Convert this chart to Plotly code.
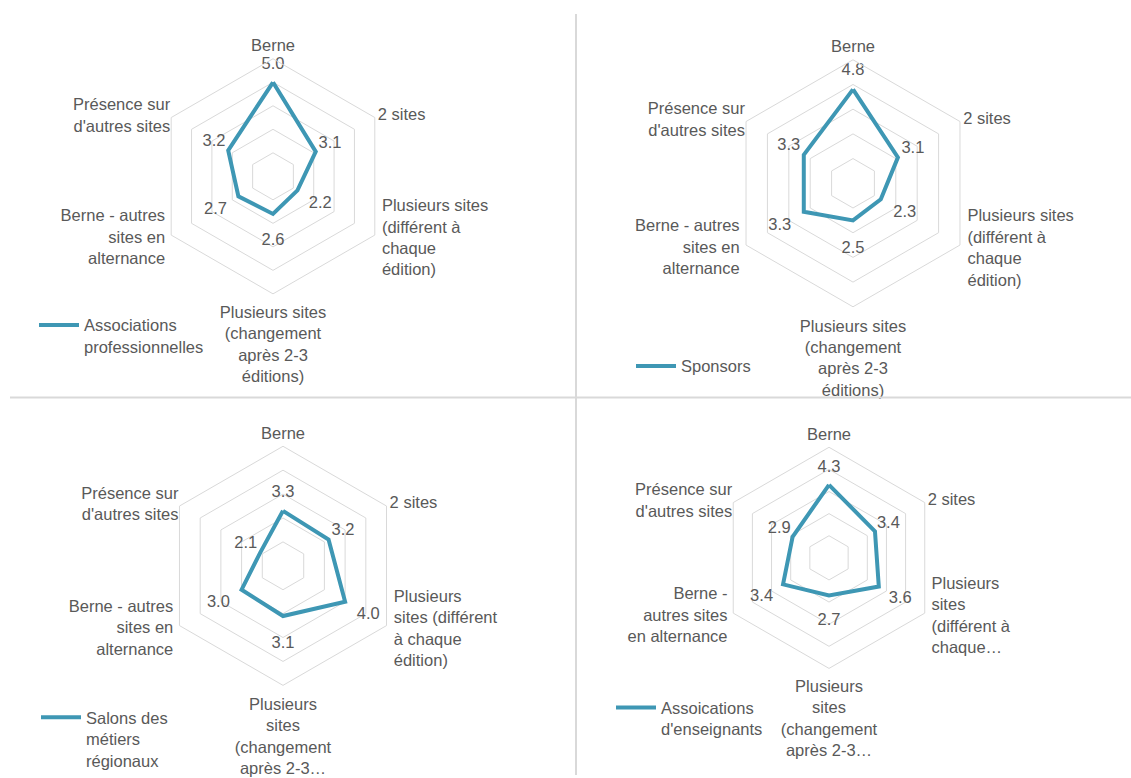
import plotly.graph_objects as go

W, H = 1131, 778

# ---------------- data ----------------
CATEGORIES = [
    "Berne",
    "2 sites",
    "Plusieurs sites (différent à chaque édition)",
    "Plusieurs sites (changement après 2-3 éditions)",
    "Berne - autres sites en alternance",
    "Présence sur d'autres sites",
]

LABELS_1 = ["Berne", "2 sites",
            "Plusieurs sites<br>(différent à<br>chaque<br>édition)",
            "Plusieurs sites<br>(changement<br>après 2-3<br>éditions)",
            "Berne - autres<br>sites en<br>alternance",
            "Présence sur<br>d'autres sites"]
LABELS_2 = ["Berne", "2 sites",
            "Plusieurs sites<br>(différent à<br>chaque<br>édition)",
            "Plusieurs sites<br>(changement<br>après 2-3<br>éditions)",
            "Berne - autres<br>sites en<br>alternance",
            "Présence sur<br>d'autres sites"]
LABELS_3 = ["Berne", "2 sites",
            "Plusieurs<br>sites (différent<br>à chaque<br>édition)",
            "Plusieurs<br>sites<br>(changement<br>après 2-3…",
            "Berne - autres<br>sites en<br>alternance",
            "Présence sur<br>d'autres sites"]
LABELS_4 = ["Berne", "2 sites",
            "Plusieurs<br>sites<br>(différent à<br>chaque…",
            "Plusieurs<br>sites<br>(changement<br>après 2-3…",
            "Berne -<br>autres sites<br>en alternance",
            "Présence sur<br>d'autres sites"]

SERIES_1 = "Associations<br>professionnelles"
SERIES_2 = "Sponsors"
SERIES_3 = "Salons des<br>métiers<br>régionaux"
SERIES_4 = "Assoications<br>d'enseignants"

VALUES_1 = [5.0, 3.1, 2.2, 2.6, 2.7, 3.2]
VALUES_2 = [4.8, 3.1, 2.3, 2.5, 3.3, 3.3]
VALUES_3 = [3.3, 3.2, 4.0, 3.1, 3.0, 2.1]
VALUES_4 = [4.3, 3.4, 3.6, 2.7, 3.4, 2.9]

RADIAL_RANGE = [1, 6]

# ---------------- style ----------------
LINE_COLOR = "#3E97B4"
TEXT_COLOR = "#595959"
GRID_COLOR = "#D9D9D9"
FONT = "Liberation Sans, Arial, sans-serif"
FS = 16.5
VALUE_LABEL_OFFSET = [0.75, 0.7, 1.12, 1.15, 1.12, 0.7]   # radial offset of value labels
CAT_LABEL_POS = ["top center", "middle right", "middle right",
                 "bottom center", "middle left", "middle left"]
CAT_LABEL_PAD = [0.15, 0.15, 0.35, 0.5, 0.3, 0.05]
OVERLAY_MAX = 6.6   # radial max of the transparent label layer

charts = [
    # (labels, values, name, polar id, overlay id, legend id, centre x, centre y, radius)
    (LABELS_1, VALUES_1, SERIES_1, "polar", "polar5", "legend", 273, 177, 118),
    (LABELS_2, VALUES_2, SERIES_2, "polar2", "polar6", "legend2", 853, 184, 124),
    (LABELS_3, VALUES_3, SERIES_3, "polar3", "polar7", "legend3", 283, 568, 120),
    (LABELS_4, VALUES_4, SERIES_4, "polar4", "polar8", "legend4", 829, 560, 111),
]

legend_pos = {
    "legend": (34, 309),
    "legend2": (631, 350),
    "legend3": (36, 703),
    "legend4": (611, 693),
}


def domain(cx, cy, r):
    return dict(x=[(cx - r) / W, (cx + r) / W],
                y=[1 - (cy + r) / H, 1 - (cy - r) / H])


fig = go.Figure()
layout = {}
for labels, vals, name, pid, oid, lid, cx, cy, r in charts:
    theta = labels + labels[:1]
    rr = vals + vals[:1]
    fig.add_trace(go.Scatterpolar(
        r=rr, theta=theta, mode="lines", name=name,
        line=dict(color=LINE_COLOR, width=4),
        subplot=pid, legend=lid, showlegend=True,
        hoverinfo="skip",
    ))
    # value labels
    fig.add_trace(go.Scatterpolar(
        r=[v + o for v, o in zip(vals, VALUE_LABEL_OFFSET)], theta=labels,
        mode="text",
        text=[f"{v:.1f}" for v in vals], textposition="middle center",
        textfont=dict(family=FONT, size=FS, color=TEXT_COLOR),
        subplot=pid, showlegend=False, cliponaxis=False, hoverinfo="skip",
    ))
    # category labels, drawn on a transparent overlay sharing the same scale
    fig.add_trace(go.Scatterpolar(
        r=[RADIAL_RANGE[1] + p for p in CAT_LABEL_PAD], theta=labels,
        mode="text", text=labels, textposition=CAT_LABEL_POS,
        textfont=dict(family=FONT, size=FS, color=TEXT_COLOR),
        subplot=oid, showlegend=False, cliponaxis=False, hoverinfo="skip",
    ))
    layout[pid] = dict(
        domain=domain(cx, cy, r),
        gridshape="linear",
        bgcolor="white",
        radialaxis=dict(range=RADIAL_RANGE, dtick=1, showticklabels=False,
                        showline=False, ticks="", gridcolor=GRID_COLOR,
                        gridwidth=1),
        angularaxis=dict(rotation=90, direction="clockwise", showgrid=False,
                         showline=True, linecolor=GRID_COLOR, linewidth=1,
                         ticks="", showticklabels=False),
    )
    ro = r * (OVERLAY_MAX - RADIAL_RANGE[0]) / (RADIAL_RANGE[1] - RADIAL_RANGE[0])
    layout[oid] = dict(
        domain=domain(cx, cy, ro),
        gridshape="linear",
        bgcolor="rgba(0,0,0,0)",
        radialaxis=dict(range=[RADIAL_RANGE[0], OVERLAY_MAX], visible=False,
                        showgrid=False, showline=False, showticklabels=False),
        angularaxis=dict(rotation=90, direction="clockwise", showgrid=False,
                         showline=False, ticks="", showticklabels=False),
    )
    lx, ly = legend_pos[lid]
    layout[lid] = dict(x=lx / W, y=1 - ly / H, xanchor="left", yanchor="top",
                       valign="top", bgcolor="rgba(0,0,0,0)",
                       font=dict(family=FONT, size=FS, color=TEXT_COLOR),
                       itemwidth=40)

fig.update_layout(
    width=W, height=H,
    margin=dict(l=0, r=0, t=0, b=0),
    paper_bgcolor="white",
    plot_bgcolor="white",
    font=dict(family=FONT, size=FS, color=TEXT_COLOR),
    **layout,
)

# divider lines between the four panels
fig.add_shape(type="line", xref="paper", yref="paper",
              x0=576 / W, x1=576 / W, y0=0, y1=1 - 14 / H,
              line=dict(color=GRID_COLOR, width=2))
fig.add_shape(type="line", xref="paper", yref="paper",
              x0=10 / W, x1=1, y0=1 - 399 / H, y1=1 - 399 / H,
              line=dict(color=GRID_COLOR, width=2))

fig.write_html("out.html", config={"displayModeBar": False},
               post_script="document.body.style.margin='0';")
